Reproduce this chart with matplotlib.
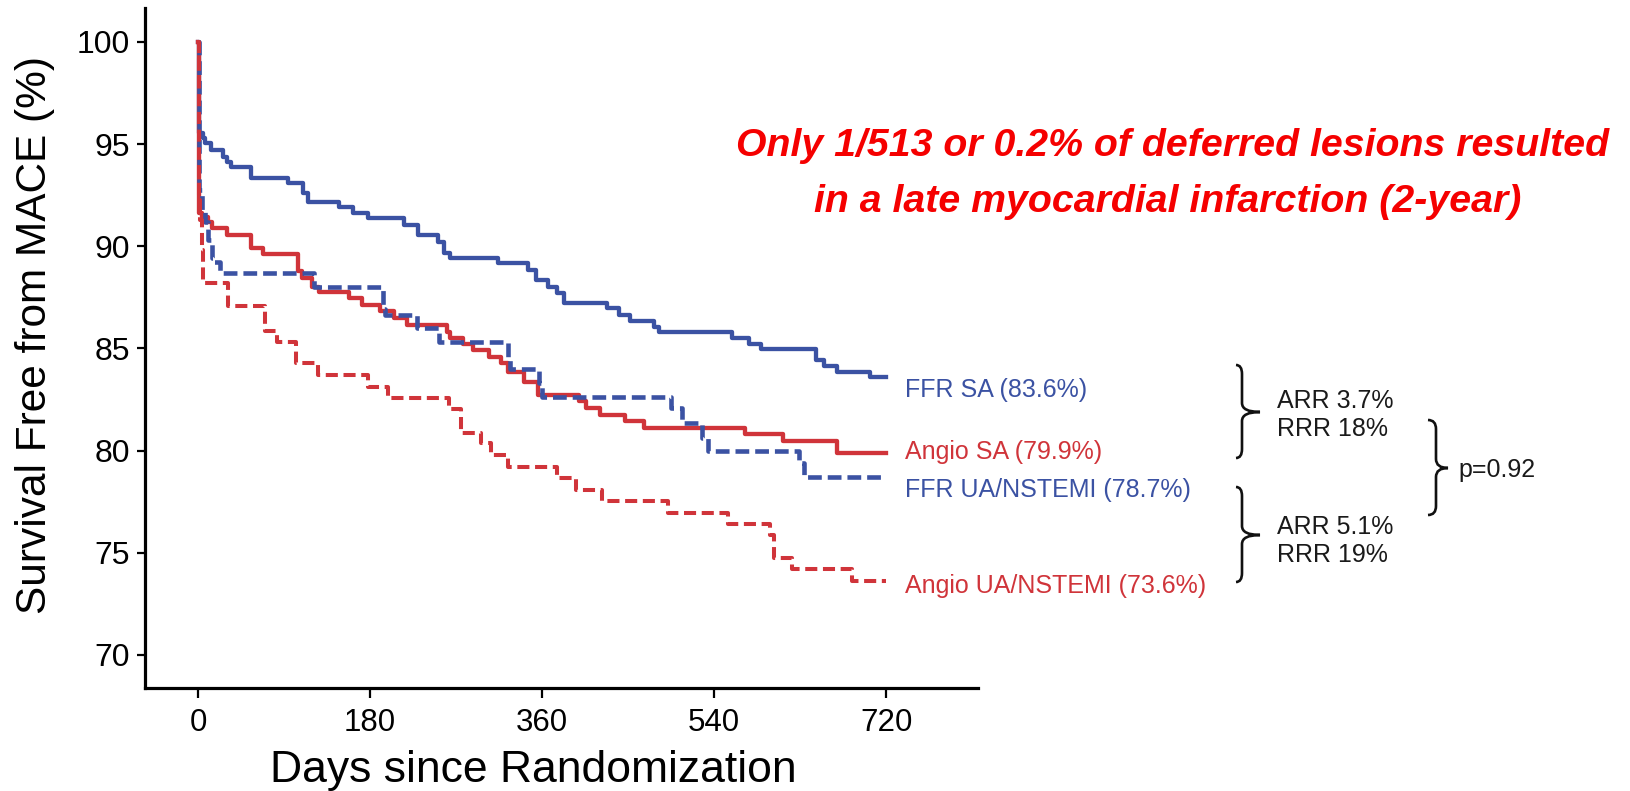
import matplotlib
matplotlib.use("Agg")
import matplotlib.pyplot as plt
from matplotlib.path import Path
from matplotlib.patches import PathPatch

# Kaplan-Meier step data: days since randomization, % free from MACE
ffr_sa_days = [0, 1, 5, 7, 13, 26, 30, 34, 55, 94, 110, 115, 147, 162, 178, 215, 230,
               251, 257, 264, 314, 345, 354, 366, 375, 383, 428, 440, 452, 477, 482,
               559, 576, 589, 647, 655, 668, 703, 720]
ffr_sa_pct = [100, 95.55, 95.30, 95.06, 94.71, 94.37, 94.13, 93.88, 93.34, 93.10, 92.61,
              92.17, 91.92, 91.63, 91.39, 91.04, 90.55, 90.21, 89.67, 89.43, 89.18, 88.84,
              88.35, 88.01, 87.71, 87.22, 86.98, 86.64, 86.34, 86.05, 85.80, 85.51, 85.22,
              84.97, 84.43, 84.14, 83.85, 83.6, 83.6]

angio_sa_days = [0, 1, 4, 10, 15, 30, 55, 68, 104, 109, 119, 126, 158, 171, 190, 205, 219,
                 260, 264, 277, 288, 304, 317, 324, 341, 356, 399, 406, 421, 447, 467, 572,
                 612, 668, 720]
angio_sa_pct = [100, 91.63, 91.43, 91.19, 90.90, 90.55, 89.92, 89.62, 88.79, 88.45, 88.01,
                87.76, 87.47, 87.13, 86.83, 86.49, 86.15, 85.80, 85.51, 85.22, 84.92, 84.58,
                84.29, 83.85, 83.36, 82.72, 82.43, 82.09, 81.74, 81.45, 81.11, 80.81, 80.47,
                79.9, 79.9]

ffr_ua_days = [0, 1, 4, 7, 10, 14, 16, 23, 121, 193, 196, 229, 252, 324, 326, 357, 360,
               495, 506, 527, 534, 629, 634, 720]
ffr_ua_pct = [100, 92.76, 91.78, 91.19, 90.31, 89.43, 89.23, 88.69, 88.01, 86.93, 86.64,
              86.00, 85.32, 84.58, 84.00, 83.31, 82.62, 82.09, 81.35, 80.62, 79.98, 79.39,
              78.7, 78.7]

angio_ua_days = [0, 1, 2, 4, 5, 31, 70, 83, 102, 125, 178, 199, 262, 275, 296, 306, 324,
                 376, 395, 423, 492, 554, 598, 603, 621, 684, 720]
angio_ua_pct = [100, 92.27, 91.29, 89.82, 88.20, 87.08, 85.85, 85.31, 84.29, 83.70, 83.11,
                82.57, 82.04, 80.86, 80.37, 79.79, 79.20, 78.66, 78.07, 77.53, 76.95, 76.41,
                75.87, 74.74, 74.20, 73.6, 73.6]

x_ticks = [0, 180, 360, 540, 720]
y_ticks = [70, 75, 80, 85, 90, 95, 100]

group_labels = ["FFR SA (83.6%)", "Angio SA (79.9%)", "FFR UA/NSTEMI (78.7%)",
                "Angio UA/NSTEMI (73.6%)"]
stat_lines = ["ARR 3.7%", "RRR 18%", "ARR 5.1%", "RRR 19%"]
p_text = "p=0.92"
note_lines = ["Only 1/513 or 0.2% of deferred lesions resulted",
              "in a late myocardial infarction (2-year)"]

BLUE = "#3b52a3"
RED = "#d0343a"
W, H = 1631, 791

plt.rcParams["font.family"] = ["Liberation Sans", "DejaVu Sans"]


def fx(x):
    return x / W


def fy(y):
    return 1 - y / H


def draw_brace(fig, x0, top, bottom, tip_y, arm, tip, r=9):
    # right facing curly brace, in pixels from the top-left corner
    mid = x0 + arm
    pts = [(x0, top), (mid, top), (mid, top + r),
           (mid, tip_y - r), (mid, tip_y), (x0 + tip, tip_y),
           (mid, tip_y), (mid, tip_y + r),
           (mid, bottom - r), (mid, bottom), (x0, bottom)]
    codes = [Path.MOVETO, Path.CURVE3, Path.CURVE3, Path.LINETO, Path.CURVE3, Path.CURVE3,
             Path.CURVE3, Path.CURVE3, Path.LINETO, Path.CURVE3, Path.CURVE3]
    verts = [(fx(x), fy(y)) for x, y in pts]
    fig.add_artist(PathPatch(Path(verts, codes), transform=fig.transFigure,
                             fill=False, lw=1.9, edgecolor="#111111"))


fig = plt.figure(figsize=(W / 100, H / 100), dpi=100)
ax = fig.add_axes([fx(145), fy(688), fx(978) - fx(145), fy(8) - fy(688)])

ax.step(ffr_sa_days, ffr_sa_pct, where="post", color=BLUE, lw=3.1)
ax.step(angio_sa_days, angio_sa_pct, where="post", color=RED, lw=3.1)
ax.step(ffr_ua_days, ffr_ua_pct, where="post", color=BLUE, lw=3.3, dashes=(3.0, 1.3))
ax.step(angio_ua_days, angio_ua_pct, where="post", color=RED, lw=2.9, dashes=(3.0, 1.4))

ax.set_xlim(-55.6, 816)
ax.set_ylim(68.38, 101.66)
ax.set_xticks(x_ticks)
ax.set_yticks(y_ticks)
for side in ["top", "right"]:
    ax.spines[side].set_visible(False)
for side in ["left", "bottom"]:
    ax.spines[side].set_linewidth(2.3)
ax.tick_params(axis="y", length=6, width=1.6, labelsize=23, pad=5)
ax.tick_params(axis="x", length=7.5, width=1.6, labelsize=22.5, pad=7)

fig.text(fx(35), fy(335), "Survival Free from MACE (%)", rotation=90,
         ha="center", va="center", fontsize=30.5)
fig.text(fx(533), fy(782), "Days since Randomization", ha="center", va="baseline",
         fontsize=32)

# group labels at the right end of each curve
label_y = [388, 450, 488, 583]
label_colors = [BLUE, RED, BLUE, RED]
for txt, yy, c in zip(group_labels, label_y, label_colors):
    fig.text(fx(905), fy(yy), txt, color=c, fontsize=18, ha="left", va="center_baseline")

draw_brace(fig, 1236, 365, 458, 412, 6, 24)
draw_brace(fig, 1236, 487, 582, 535, 6, 24)
draw_brace(fig, 1428, 420, 515, 468, 8, 20)

for txt, yy in zip(stat_lines, [399, 427, 525, 553]):
    fig.text(fx(1277), fy(yy), txt, color="#1a1a1a", fontsize=18, ha="left",
             va="center_baseline")
fig.text(fx(1458), fy(467), p_text, color="#1a1a1a", fontsize=18, ha="left",
         va="center_baseline")

for txt, xx, yy in zip(note_lines, [1173, 1168], [142, 198]):
    fig.text(fx(xx), fy(yy), txt, color="#f50000", fontsize=28.3, fontweight="bold",
             fontstyle="italic", ha="center", va="center_baseline")

fig.savefig("out.png", dpi=100)
